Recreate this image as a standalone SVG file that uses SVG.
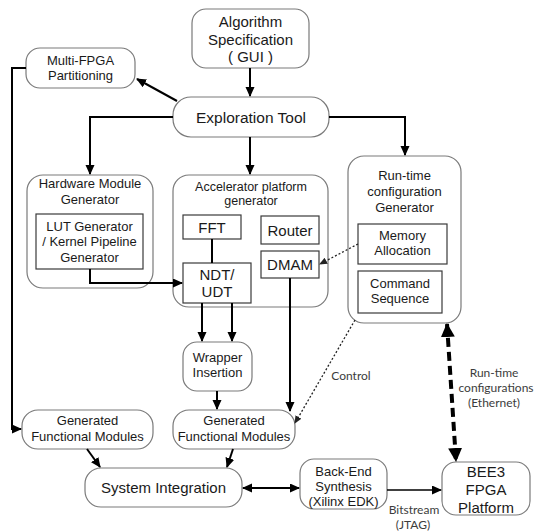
<svg xmlns="http://www.w3.org/2000/svg" width="535" height="531" viewBox="0 0 535 531">
<defs>
<style>
.box{fill:#fff;stroke:#7a7a7a;stroke-width:1.2}
.in{fill:#fff;stroke:#3a3a3a;stroke-width:1.2}
text{font-family:"Liberation Sans",Arial,sans-serif;fill:#1a1a1a;text-anchor:middle}
.t13{font-size:13px}
.t15{font-size:15px}
.t16{font-size:16px}
.lbl{font-family:Lato,"Open Sans",sans-serif;font-size:12px;fill:#3c3c3c}
.ln{fill:none;stroke:#000;stroke-width:2}
.thin{fill:none;stroke:#000;stroke-width:1.5}
.dot{fill:none;stroke:#222;stroke-width:1.3;stroke-dasharray:2 2}
.dash{fill:none;stroke:#000;stroke-width:4;stroke-dasharray:9 5}
</style>
<marker id="ah" markerUnits="userSpaceOnUse" markerWidth="12" markerHeight="10" refX="9" refY="4.5" orient="auto-start-reverse" viewBox="0 0 12 10">
<path d="M0,0 L10,4.5 L0,9 z" fill="#000"/>
</marker>
<marker id="ahs" markerUnits="userSpaceOnUse" markerWidth="10" markerHeight="8" refX="7" refY="3.5" orient="auto" viewBox="0 0 10 8">
<path d="M0,0 L8,3.5 L0,7 z" fill="#222"/>
</marker>
<marker id="ahb" markerUnits="userSpaceOnUse" markerWidth="16" markerHeight="16" refX="13" refY="7" orient="auto-start-reverse" viewBox="0 0 16 16">
<path d="M0,0 L14,7 L0,14 z" fill="#000"/>
</marker>
</defs>
<rect width="535" height="531" fill="#fff"/>

<g id="alg">
<rect class="box" x="192" y="9" width="117" height="59" rx="14"/>
<text class="t15" x="250.5" y="27">Algorithm</text>
<text class="t15" x="250.5" y="45">Specification</text>
<text class="t15" x="250.5" y="62">( GUI )</text>
</g>
<g id="explore">
<rect class="box" x="173" y="97" width="156" height="40" rx="18"/>
<text class="t15" x="251" y="123" style="font-size:15.5px">Exploration Tool</text>
</g>
<g id="multi">
<rect class="box" x="26" y="48" width="109" height="40" rx="14"/>
<text class="t13" x="80.5" y="65">Multi-FPGA</text>
<text class="t13" x="80.5" y="80">Partitioning</text>
</g>
<g id="hw">
<rect class="box" x="27" y="175" width="126" height="113" rx="16"/>
<text class="t13" x="90" y="188">Hardware Module</text>
<text class="t13" x="90" y="204">Generator</text>
<g id="lut">
<rect class="in" x="36" y="214" width="107" height="55"/>
<text class="t13" x="89.5" y="231">LUT Generator</text>
<text class="t13" x="89.5" y="246">/ Kernel Pipeline</text>
<text class="t13" x="89.5" y="262">Generator</text>
</g>
</g>
<g id="accel">
<rect class="box" x="173" y="175" width="155" height="132" rx="16"/>
<text class="t13" x="251" y="191" style="font-size:12.5px">Accelerator platform</text>
<text class="t13" x="251" y="205" style="font-size:12.5px">generator</text>
<g id="fft">
<rect class="in" x="183" y="215" width="58" height="24"/>
<text class="t15" x="212" y="233">FFT</text>
</g>
<g id="router">
<rect class="in" x="261" y="216" width="58" height="28"/>
<text class="t15" x="290" y="236">Router</text>
</g>
<g id="dmam">
<rect class="in" x="261" y="251" width="58" height="27"/>
<text class="t15" x="290" y="270">DMAM</text>
</g>
<g id="ndt">
<rect class="in" x="183" y="263" width="68" height="40"/>
<text class="t15" x="217" y="280">NDT/</text>
<text class="t15" x="217" y="297">UDT</text>
</g>
</g>
<g id="runtime">
<rect class="box" x="348" y="156" width="113" height="167" rx="16"/>
<text class="t13" x="404.5" y="180">Run-time</text>
<text class="t13" x="404.5" y="196">configuration</text>
<text class="t13" x="404.5" y="212">Generator</text>
<g id="mem">
<rect class="in" x="358" y="224" width="89" height="40"/>
<text class="t13" x="402.5" y="240">Memory</text>
<text class="t13" x="402.5" y="255">Allocation</text>
</g>
<g id="cmd">
<rect class="in" x="358" y="271" width="84" height="42"/>
<text class="t13" x="400" y="288">Command</text>
<text class="t13" x="400" y="303">Sequence</text>
</g>
</g>
<g id="wrapper">
<rect class="box" x="183" y="342" width="69" height="49" rx="14"/>
<text class="t13" x="217.5" y="362">Wrapper</text>
<text class="t13" x="217.5" y="377">Insertion</text>
</g>
<g id="gfm1">
<rect class="box" x="22" y="410" width="131" height="39" rx="16"/>
<text class="t13" x="87.5" y="425">Generated</text>
<text class="t13" x="87.5" y="441">Functional Modules</text>
</g>
<g id="gfm2">
<rect class="box" x="173" y="410" width="122" height="39" rx="16"/>
<text class="t13" x="234" y="425">Generated</text>
<text class="t13" x="234" y="441">Functional Modules</text>
</g>
<g id="sysint">
<rect class="box" x="85" y="468" width="157" height="39" rx="16"/>
<text class="t15" x="163.5" y="493">System Integration</text>
</g>
<g id="backend">
<rect class="box" x="300" y="459" width="87" height="50" rx="14"/>
<text class="t13" x="343.5" y="476">Back-End</text>
<text class="t13" x="343.5" y="491">Synthesis</text>
<text class="t13" x="343.5" y="506">(Xilinx EDK)</text>
</g>
<g id="bee3">
<rect class="box" x="442" y="462" width="88" height="53" rx="14"/>
<text class="t15" x="486" y="477">BEE3</text>
<text class="t15" x="486" y="495">FPGA</text>
<text class="t15" x="486" y="513">Platform</text>
</g>

<g id="connectors">
<path class="ln" d="M250,68 V96" marker-end="url(#ah)"/>
<path class="ln" d="M177,101 L137,79" marker-end="url(#ah)"/>
<path class="ln" d="M26,68 H12 V429 H21" marker-end="url(#ah)"/>
<path class="ln" d="M173,117 H90 V174" marker-end="url(#ah)"/>
<path class="ln" d="M250,137 V174" marker-end="url(#ah)"/>
<path class="ln" d="M329,117 H405 V155" marker-end="url(#ah)"/>
<path class="ln" d="M90,269 V283 H182" marker-end="url(#ah)"/>
<path class="ln" d="M212,239 V263"/>
<path class="ln" d="M202,303 V341" marker-end="url(#ah)"/>
<path class="ln" d="M232,303 V341" marker-end="url(#ah)"/>
<path class="ln" d="M217,391 V409" marker-end="url(#ah)"/>
<path class="ln" d="M290,278 V411" marker-end="url(#ah)"/>
<path class="dot" d="M358,244 L320,264" marker-end="url(#ahs)"/>
<path class="dot" d="M355,320 L295,423" marker-end="url(#ahs)"/>
<path class="ln" d="M87,449 L100,467" marker-end="url(#ah)"/>
<path class="ln" d="M233,449 L227,467" marker-end="url(#ah)"/>
<path class="ln" d="M243,488 H299" marker-start="url(#ah)" marker-end="url(#ah)"/>
<path class="thin" d="M387,490 H441" marker-end="url(#ah)"/>
<path class="dash" d="M447,324 L456,461" marker-start="url(#ahb)" marker-end="url(#ahb)"/>
<text class="lbl" x="351" y="380">Control</text>
<text class="lbl" x="494" y="377">Run-time</text>
<text class="lbl" x="496" y="392">configurations</text>
<text class="lbl" x="494" y="407">(Ethernet)</text>
<text class="lbl" x="414" y="514">Bitstream</text>
<text class="lbl" x="413" y="529">(JTAG)</text>
</g>
</svg>
